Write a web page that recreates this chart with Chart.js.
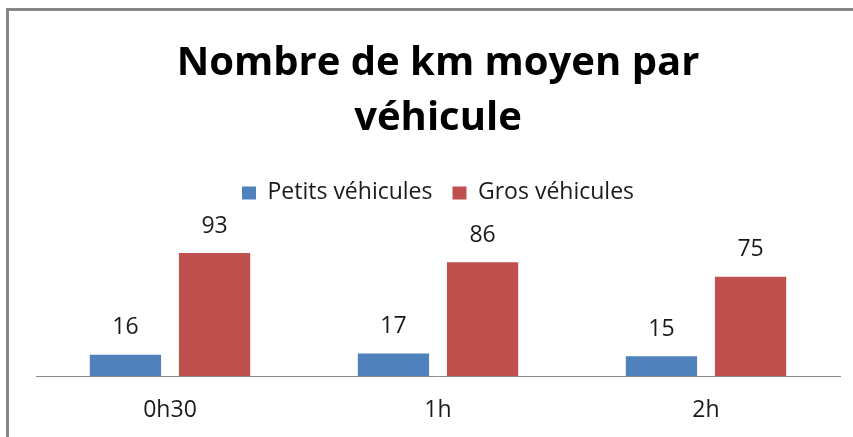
<!DOCTYPE html>
<html>
<head>
<meta charset="utf-8">
<script src="https://cdn.jsdelivr.net/npm/chart.js@4/dist/chart.umd.min.js"></script>
<style>
  html, body { margin: 0; padding: 0; background: #ffffff; }
  #wrap { position: absolute; left: 0; top: 0; width: 853px; height: 437px; }
</style>
</head>
<body>
<div id="wrap"><canvas id="c" width="853" height="437"></canvas></div>
<script>
const titleLines = ['Nombre de km moyen par', 'véhicule'];
const categories = ['0h30', '1h', '2h'];
const seriesNames = ['Petits véhicules', 'Gros véhicules'];
const petitsVehicules = [16, 17, 15];
const grosVehicules = [93, 86, 75];
const seriesColors = ['#4F81BD', '#C0504D'];

const frame = {
  id: 'frame',
  beforeDraw(chart) {
    const ctx = chart.ctx;
    ctx.save();
    ctx.fillStyle = '#ffffff';
    ctx.fillRect(0, 0, chart.width, chart.height);
    ctx.fillStyle = '#878787';
    ctx.fillRect(6, 8, chart.width - 6, 3);
    ctx.fillRect(6, 8, 3, chart.height - 8);
    ctx.restore();
  }
};

const valueLabels = {
  id: 'valueLabels',
  afterDatasetsDraw(chart) {
    const ctx = chart.ctx;
    ctx.save();
    ctx.font = '23px "Open Sans", "Noto Sans", sans-serif';
    ctx.fillStyle = '#1a1a1a';
    ctx.textAlign = 'center';
    ctx.textBaseline = 'middle';
    chart.data.datasets.forEach((ds, di) => {
      const meta = chart.getDatasetMeta(di);
      meta.data.forEach((bar, i) => {
        ctx.fillText(String(ds.data[i]), bar.x, bar.y - 27);
      });
    });
    ctx.restore();
  }
};

new Chart(document.getElementById('c'), {
  type: 'bar',
  data: {
    labels: categories,
    datasets: [
      { label: seriesNames[0], data: petitsVehicules, backgroundColor: seriesColors[0] },
      { label: seriesNames[1], data: grosVehicules, backgroundColor: seriesColors[1] }
    ]
  },
  options: {
    responsive: false,
    devicePixelRatio: 1,
    animation: false,
    categoryPercentage: 0.665,
    barPercentage: 0.8,
    layout: { padding: { top: 36, left: 36, right: 13, bottom: 0 } },
    plugins: {
      title: {
        display: true,
        text: titleLines,
        color: '#000000',
        font: { family: '"Open Sans", "Noto Sans", sans-serif', size: 40, weight: 'bold', lineHeight: 1.38 },
        padding: { top: 0, bottom: 15 }
      },
      legend: {
        display: true,
        position: 'top',
        labels: {
          boxWidth: 14,
          boxHeight: 13,
          padding: 20,
          color: '#1a1a1a',
          font: { family: '"Open Sans", "Noto Sans", sans-serif', size: 23 }
        }
      },
      tooltip: { enabled: false }
    },
    scales: {
      x: {
        grid: { display: false, drawTicks: false },
        border: { display: true, color: '#8a8a8a', width: 1 },
        ticks: {
          color: '#1a1a1a',
          padding: 21,
          font: { family: '"Open Sans", "Noto Sans", sans-serif', size: 23 }
        },
        afterFit(scale) { scale.height = 61; }
      },
      y: {
        display: false,
        min: 0,
        max: 122.2
      }
    }
  },
  plugins: [frame, valueLabels]
});
</script>
</body>
</html>
